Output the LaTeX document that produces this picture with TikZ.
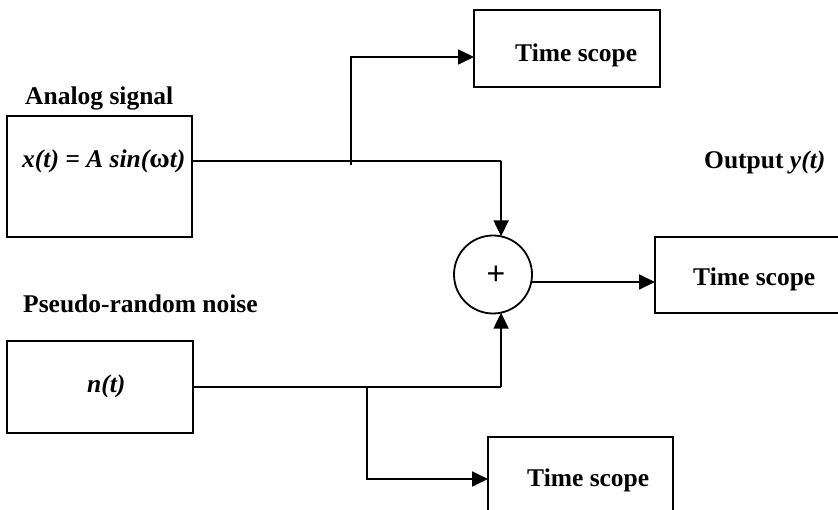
\documentclass[tikz,border=0pt]{standalone}
\usepackage{fontspec}
\setmainfont{Liberation Serif}
\newfontfamily\plusfont{Liberation Sans}
\usetikzlibrary{arrows.meta}
\tikzset{
  box/.style={draw, line width=1.8pt, inner sep=0pt, outer sep=0pt},
  lbl/.style={anchor=base west, inner sep=0pt, font=\fontsize{25.5}{30}\selectfont\bfseries},
  conn/.style={line width=1.8pt},
  arr/.style={line width=1.8pt, -{Triangle[length=16pt,width=15pt]}},
}
\begin{document}
\begin{tikzpicture}[x=1pt,y=-1pt]
\useasboundingbox (0,0) rectangle (838,510);
\clip (0,0) rectangle (838,510);
% boxes
\node[box, minimum width=185pt, minimum height=121pt] (abox) at (99.5,176.5) {};
\node[box, minimum width=186pt, minimum height=92pt] (nbox) at (100,387) {};
\node[box, minimum width=186pt, minimum height=77pt] (ts1) at (567,48.5) {};
\node[box, minimum width=210pt, minimum height=76pt] (ts2) at (760,275) {};
\node[box, minimum width=185pt, minimum height=102pt] (ts3) at (580.5,488) {};
\node[draw, circle, line width=1.8pt, minimum size=78pt, inner sep=0pt, outer sep=0pt] (sum) at (493,274.5) {};
% texts
\node[lbl] (lanalog) at (25,105) {Analog signal};
\node[lbl] (xt) at (22,168) {\itshape x(t) = A sin(\upshape{\fontsize{28}{30}\selectfont ω}\itshape t)};
\node[lbl] (lnoise) at (23,313) {Pseudo-random noise};
\node[lbl] (nt) at (87,392) {\itshape n(t)};
\node[lbl] (lout) at (704,169) {Output \itshape y(t)};
\node[lbl] (t1) at (515,62) {Time scope};
\node[lbl] (t2) at (693,286) {Time scope};
\node[lbl] (t3) at (527,486) {Time scope};
\node[inner sep=0pt, font=\plusfont\fontsize{32}{32}\selectfont] (plus) at (496,275) {+};
% junctions
\coordinate (ja) at (351,161);
\coordinate (ca) at (501,161);
\coordinate (jn) at (367,387);
\coordinate (cn) at (501,387);
% connectors
\draw[conn] (abox.east |- ja) -- (ca);
\draw[arr] (ca) -- (sum.78);
\draw[arr] ([yshift=-4pt]ja) |- ([yshift=-8.5pt]ts1.west);
\draw[conn] (nbox.east |- jn) -- (cn);
\draw[arr] (cn) -- (sum.-78);
\draw[arr] (jn) |- ([yshift=9pt]ts3.west);
\draw[arr] (sum.-11) -- ([yshift=-7pt]ts2.west);
\end{tikzpicture}
\end{document}
